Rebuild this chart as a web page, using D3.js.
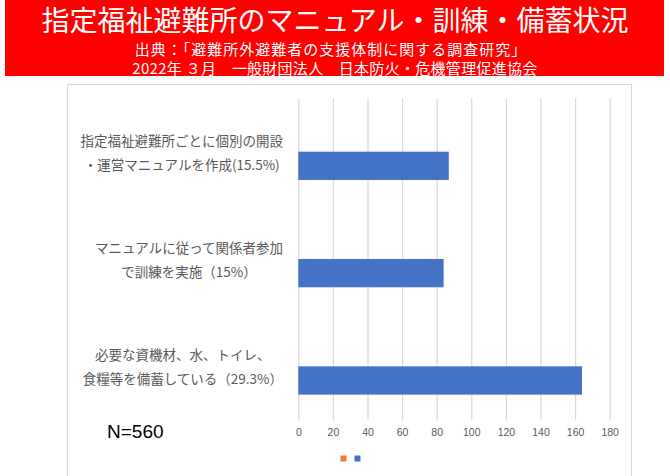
<!DOCTYPE html>
<html>
<head>
<meta charset="utf-8">
<script src="https://cdn.jsdelivr.net/npm/d3@7"></script>
<style>
  body { margin: 0; background: #fff; }
  svg { display: block; }
</style>
</head>
<body>
<svg id="chart"></svg>
<script>
// chart values
var titleText = "指定福祉避難所のマニュアル・訓練・備蓄状況";
var subLines = ["出典：「避難所外避難者の支援体制に関する調査研究」",
                "2022年 ３月　一般財団法人　日本防火・危機管理促進協会"];
var categories = [
  ["指定福祉避難所ごとに個別の開設", "・運営マニュアルを作成(15.5%)"],
  ["マニュアルに従って関係者参加", "で訓練を実施（15%）"],
  ["必要な資機材、水、トイレ、", "食糧等を備蓄している（29.3%）"]
];
var seriesA = [null, null, null];   // orange series, no visible bars
var seriesB = [87, 84, 164];        // counts
var xTicks = [0, 20, 40, 60, 80, 100, 120, 140, 160, 180];
var seriesColors = ["#ED7D31", "#4472C4"];
var noteText = "N=560";

var W = 670, H = 476;
var svg = d3.select('#chart').attr('width', W).attr('height', H);

// red header band
svg.append('rect')
  .attr('x', 5).attr('y', 0)
  .attr('width', 659).attr('height', 76)
  .style('fill', '#FF0000');

svg.append('text')
  .attr('x', 335).attr('y', 19)
  .attr('text-anchor', 'middle')
  .attr('dominant-baseline', 'central')
  .style('font-family', '"Noto Sans CJK JP"')
  .style('font-size', '28px')
  .style('fill', '#fff')
  .text(titleText);

svg.selectAll('text.sub')
  .data(subLines)
  .enter()
  .append('text')
  .attr('class', 'sub')
  .attr('x', function(d, i){ return i === 0 ? 331 : 335; })
  .attr('y', function(d, i){ return 48 + i * 19; })
  .attr('text-anchor', 'middle')
  .attr('dominant-baseline', 'central')
  .style('font-family', '"Noto Sans CJK JP"')
  .style('font-size', '15px')
  .style('letter-spacing', function(d, i){ return i === 0 ? '1px' : '0.3px'; })
  .style('fill', '#fff')
  .text(function(d){ return d; });

// chart area frame
svg.append('rect')
  .attr('x', 67.5).attr('y', 84.5)
  .attr('width', 564).attr('height', 420)
  .style('fill', 'none')
  .style('stroke', '#d9d9d9')
  .style('stroke-width', 1);

var xScale = d3.scaleLinear()
  .domain([0, 180])
  .range([298.3, 609.7]);

var yScale = d3.scaleBand()
  .domain(d3.range(categories.length))
  .range([98, 420])
  .paddingInner(0.473)
  .paddingOuter(0.2365);

var ySeries = d3.scaleBand()
  .domain([0, 1])
  .range([0, yScale.bandwidth()]);

// gridlines + tick labels
var xAxis = d3.axisBottom(xScale)
  .tickValues(xTicks)
  .tickSize(-(420 - 98))
  .tickPadding(9);

var axisG = svg.append('g')
  .attr('transform', 'translate(0,420)')
  .call(xAxis);
axisG.select('.domain').remove();
axisG.selectAll('.tick line')
  .style('stroke', '#d9d9d9')
  .style('stroke-width', 1.2);
axisG.selectAll('.tick text')
  .style('font-family', '"Liberation Sans", Arial, sans-serif')
  .style('font-size', '10.5px')
  .style('fill', '#595959');

// bars
var series = [seriesA, seriesB];
series.forEach(function(vals, s){
  svg.append('g').selectAll('rect')
    .data(vals.map(function(v, i){ return {v: v, i: i}; })
              .filter(function(d){ return d.v != null; }))
    .enter()
    .append('rect')
    .attr('x', xScale(0))
    .attr('y', function(d){ return yScale(d.i) + ySeries(s); })
    .attr('width', function(d){ return xScale(d.v) - xScale(0); })
    .attr('height', ySeries.bandwidth())
    .style('fill', seriesColors[s]);
});

// category labels (lines centred in a block right-aligned to the axis)
var labelRight = 283;
categories.forEach(function(lines, i){
  var g = svg.append('g');
  var texts = g.selectAll('text')
    .data(lines)
    .enter()
    .append('text')
    .attr('y', function(d, j){ return yScale(i) + yScale.bandwidth() / 2 + (j === 0 ? -12 : 12); })
    .attr('text-anchor', 'middle')
    .attr('dominant-baseline', 'central')
    .style('font-family', '"Noto Sans CJK JP"')
    .style('font-size', '13.5px')
    .style('fill', '#595959')
    .text(function(d){ return d; });
  var maxW = d3.max(texts.nodes(), function(n){ return n.getComputedTextLength(); });
  texts.attr('x', labelRight - maxW / 2);
});

// N note
svg.append('text')
  .attr('x', 107).attr('y', 431)
  .attr('dominant-baseline', 'central')
  .style('font-family', '"Liberation Sans", Arial, sans-serif')
  .style('font-size', '19px')
  .style('fill', '#000')
  .text(noteText);

// legend (markers only)
svg.append('g').selectAll('rect')
  .data(seriesColors)
  .enter()
  .append('rect')
  .attr('x', function(d, i){ return 340.5 + i * 14; })
  .attr('y', 455.5)
  .attr('width', 6).attr('height', 6)
  .style('fill', function(d){ return d; });
</script>
</body>
</html>
